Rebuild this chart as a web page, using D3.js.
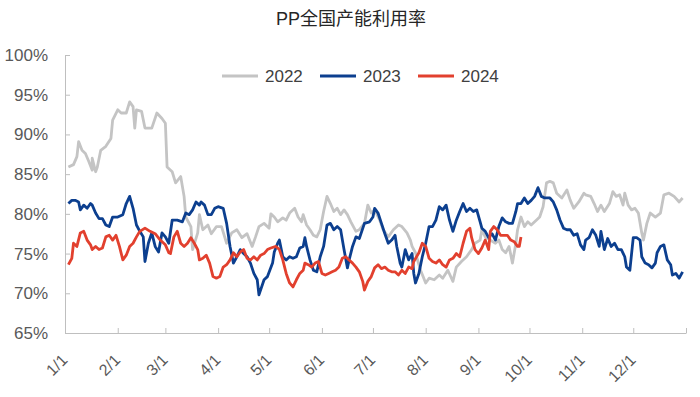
<!DOCTYPE html>
<html>
<head>
<meta charset="utf-8">
<script src="https://cdn.jsdelivr.net/npm/d3@7"></script>
<style>
  body { margin: 0; background: #fff; }
  svg { display: block; }
  .axis text { font-family: "Liberation Sans", Arial, sans-serif; fill: #595959; }
  .axis path, .axis line { stroke: #bfbfbf; }
</style>
</head>
<body>
<script>
// day of year, utilisation %
var series2022 = [[2,85.9],[5,86.2],[7,87.2],[8,89.1],[10,88.0],[12,87.6],[14,86.6],[16,85.5],[16,87.0],[18,85.3],[19,85.9],[21,88.0],[24,88.5],[27,89.5],[28,91.8],[31,93.1],[33,92.7],[36,92.7],[38,94.1],[40,93.5],[41,90.8],[42,93.1],[45,92.9],[47,90.8],[51,90.8],[54,92.7],[57,92.0],[59,91.4],[60,85.9],[63,85.3],[65,83.9],[68,84.7],[70,82.2],[71,79.6],[74,78.4],[75,75.5],[78,77.6],[79,79.9],[81,78.0],[84,78.6],[86,77.5],[89,78.4],[92,78.4],[95,76.3],[98,77.6],[101,78.0],[104,77.0],[107,77.5],[110,75.9],[112,77.1],[114,78.4],[117,78.8],[120,78.2],[121,80.0],[123,79.6],[125,79.0],[128,79.5],[130,79.2],[132,80.1],[135,80.7],[137,79.6],[139,79.0],[140,79.9],[142,78.6],[144,78.0],[146,77.3],[148,77.1],[150,78.0],[152,80.3],[154,82.2],[156,81.3],[158,80.3],[160,80.7],[162,79.9],[164,80.5],[166,79.9],[168,79.0],[171,77.8],[173,78.0],[176,78.8],[178,81.1],[180,80.1],[182,80.5],[185,79.2],[187,78.0],[190,77.1],[193,78.0],[196,78.6],[198,78.4],[201,77.6],[203,76.7],[204,75.9],[206,75.1],[209,72.9],[212,71.3],[214,71.9],[217,71.7],[220,72.3],[222,71.9],[225,72.9],[228,71.5],[230,73.3],[233,74.0],[236,74.6],[239,75.5],[241,76.3],[244,76.7],[245,78.0],[247,77.1],[250,76.7],[253,76.3],[255,76.7],[257,75.5],[259,75.1],[261,75.9],[263,73.8],[265,76.3],[266,78.0],[268,79.6],[270,78.4],[272,79.0],[274,78.6],[277,79.2],[279,79.6],[281,80.9],[283,83.9],[285,84.1],[287,83.9],[289,82.6],[292,82.0],[295,83.0],[297,81.7],[299,80.7],[302,81.5],[305,82.6],[306,82.4],[309,82.2],[311,81.3],[313,80.3],[315,81.1],[317,80.3],[320,81.3],[322,82.8],[324,82.2],[326,82.4],[328,81.1],[329,82.6],[331,81.1],[333,80.5],[335,80.7],[337,80.1],[339,77.6],[340,76.7],[342,78.8],[344,80.1],[347,79.6],[350,80.1],[352,82.4],[355,82.6],[358,82.2],[361,81.5],[363,82.0]];

var series2023 = [[2,81.3],[4,81.7],[6,81.7],[8,81.5],[9,80.5],[11,81.1],[13,80.7],[15,81.3],[16,81.1],[18,80.1],[20,79.4],[22,79.4],[24,78.6],[26,78.4],[28,79.6],[31,79.6],[34,79.9],[36,81.3],[38,82.2],[40,80.7],[42,78.6],[44,77.8],[46,77.1],[47,74.0],[49,76.3],[51,77.6],[53,75.9],[55,75.2],[57,77.6],[59,77.1],[61,76.3],[63,79.2],[66,79.2],[69,79.0],[71,80.1],[73,79.9],[75,80.5],[77,81.5],[79,81.1],[80,81.5],[82,81.1],[84,79.9],[86,79.9],[88,80.7],[90,80.9],[93,80.7],[95,78.8],[97,75.9],[99,73.8],[101,74.6],[103,75.5],[105,75.0],[107,74.6],[109,73.8],[111,72.5],[113,71.7],[114,69.8],[117,71.7],[119,72.1],[122,73.8],[123,75.2],[125,76.3],[126,76.7],[128,74.6],[130,74.2],[132,74.6],[134,74.4],[136,74.6],[138,75.7],[140,75.9],[141,77.0],[142,75.9],[144,74.2],[146,72.9],[148,72.7],[150,74.6],[152,75.9],[154,78.6],[156,78.8],[158,78.0],[160,78.4],[162,78.0],[164,75.5],[166,73.2],[167,74.2],[169,75.9],[171,77.1],[173,76.9],[176,78.8],[179,79.0],[181,79.6],[182,80.7],[184,80.1],[186,78.8],[188,77.5],[190,76.3],[192,76.7],[194,77.3],[195,75.9],[197,73.8],[198,73.3],[200,75.5],[202,74.2],[204,75.0],[205,72.5],[206,71.3],[208,72.5],[210,74.6],[212,76.3],[214,78.4],[216,78.4],[218,79.2],[220,80.9],[222,80.5],[224,81.1],[226,79.2],[228,77.8],[230,79.2],[232,80.3],[234,81.3],[236,80.3],[238,80.7],[240,80.3],[242,80.5],[244,79.0],[245,78.2],[247,77.8],[249,77.0],[251,77.5],[253,76.7],[255,78.4],[257,79.5],[259,79.0],[261,78.8],[263,78.8],[265,80.3],[266,81.3],[268,81.3],[270,82.0],[272,81.3],[274,81.7],[276,82.2],[278,83.3],[280,82.2],[282,82.0],[285,82.0],[287,81.5],[289,80.5],[291,79.2],[293,78.2],[295,78.0],[297,78.0],[299,77.3],[301,77.5],[303,76.1],[305,75.5],[306,76.7],[308,77.0],[310,78.0],[312,77.3],[314,75.9],[315,77.8],[317,75.5],[319,76.9],[321,75.9],[323,76.3],[325,75.5],[327,75.5],[329,74.6],[330,73.3],[332,72.9],[334,77.0],[336,77.0],[338,76.7],[339,74.6],[341,73.8],[343,73.6],[345,73.2],[347,73.8],[348,75.1],[350,75.9],[352,76.1],[354,74.2],[356,73.6],[357,72.3],[359,72.5],[361,71.9],[363,72.7]];

var series2024 = [[2,73.6],[4,74.4],[5,76.3],[7,75.9],[9,77.6],[11,77.8],[13,76.7],[15,76.1],[16,75.5],[18,75.9],[20,75.5],[22,75.7],[24,77.1],[26,77.3],[28,76.7],[30,77.3],[32,75.9],[34,74.2],[36,74.8],[38,75.9],[40,76.3],[42,77.1],[44,77.8],[47,78.2],[50,77.8],[53,77.5],[56,76.7],[59,76.1],[61,75.1],[62,75.0],[64,77.1],[66,77.8],[68,76.3],[70,75.9],[72,76.3],[74,77.0],[76,76.3],[78,75.5],[79,74.2],[81,74.4],[83,74.8],[85,73.8],[87,72.1],[89,71.9],[91,72.1],[93,73.3],[95,73.6],[97,74.2],[99,75.1],[101,74.6],[103,75.2],[105,75.5],[107,74.4],[109,74.2],[111,74.6],[113,74.2],[115,74.8],[117,75.0],[119,75.5],[121,75.7],[124,75.9],[126,75.5],[128,74.2],[130,72.5],[132,71.3],[134,70.8],[136,71.7],[138,72.5],[140,72.9],[141,73.8],[143,73.6],[145,73.3],[147,73.8],[149,74.0],[151,72.5],[153,72.3],[155,72.5],[157,72.7],[159,72.9],[161,73.3],[163,74.4],[165,74.6],[167,74.2],[169,73.8],[171,73.3],[173,72.7],[175,71.5],[176,70.4],[178,71.5],[180,72.1],[182,73.2],[184,73.6],[186,73.1],[188,73.3],[190,72.9],[192,72.7],[194,72.7],[196,72.3],[198,72.9],[200,72.5],[202,73.3],[204,73.1],[205,74.0],[208,75.1],[210,76.3],[212,75.9],[214,74.4],[216,74.0],[218,73.8],[220,74.2],[222,73.6],[224,73.3],[226,74.2],[228,74.4],[230,75.0],[232,74.6],[234,76.3],[236,77.8],[238,78.2],[239,77.0],[241,75.5],[243,75.0],[245,75.7],[247,76.7],[249,75.5],[250,77.8],[252,78.4],[254,78.0],[256,77.3],[258,77.3],[260,77.3],[262,76.7],[264,76.5],[266,75.9],[267,75.9],[268,77.1]];

var seriesNames = ["2022", "2023", "2024"];
var seriesColors = ["#c4c4c4", "#0c3f8f", "#e2402e"];
var monthDays = [0, 31, 59, 90, 120, 151, 181, 212, 243, 273, 304, 334, 365];
var monthLabels = ["1/1", "2/1", "3/1", "4/1", "5/1", "6/1", "7/1", "8/1", "9/1", "10/1", "11/1", "12/1"];
var yTicks = [65, 70, 75, 80, 85, 90, 95, 100];

var allSeries = [series2022, series2023, series2024];

var width = 700, height = 397;
var margin = { top: 55, right: 14, bottom: 64, left: 65 };

var svg = d3.select("body").append("svg")
    .attr("width", width)
    .attr("height", height);

var x = d3.scaleLinear()
    .domain([0, 365])
    .range([margin.left, width - margin.right]);

var y = d3.scaleLinear()
    .domain([65, 100])
    .range([height - margin.bottom, margin.top]);

svg.append("text")
    .attr("x", 351)
    .attr("y", 25)
    .attr("text-anchor", "middle")
    .style("font-family", "'Liberation Sans', 'Noto Sans CJK SC', sans-serif")
    .style("font-size", "18px")
    .style("fill", "#262626")
    .text("PP全国产能利用率");

var yAxis = d3.axisLeft(y)
    .tickValues(yTicks)
    .tickSize(-5)
    .tickSizeOuter(0)
    .tickPadding(17)
    .tickFormat(function (d) { return d + "%"; });

svg.append("g")
    .attr("class", "y axis")
    .attr("transform", "translate(" + margin.left + ",0)")
    .call(yAxis)
    .selectAll("text")
    .style("font-size", "17px");

var xAxis = d3.axisBottom(x)
    .tickValues(monthDays)
    .tickSize(-5)
    .tickSizeOuter(0)
    .tickFormat(function (d, i) { return monthLabels[i] || ""; });

var gX = svg.append("g")
    .attr("class", "x axis")
    .attr("transform", "translate(0," + (height - margin.bottom) + ")")
    .call(xAxis);

gX.selectAll("text")
    .style("font-size", "16px")
    .attr("text-anchor", "end")
    .attr("x", 0)
    .attr("y", 0)
    .attr("dy", "0.35em")
    .attr("transform", "translate(-1,24) rotate(-45)");

var line = d3.line()
    .x(function (d) { return x(d[0]); })
    .y(function (d) { return y(d[1]); });

svg.selectAll(".series")
    .data(allSeries)
  .enter().append("path")
    .attr("class", "series")
    .attr("d", line)
    .attr("fill", "none")
    .attr("stroke", function (d, i) { return seriesColors[i]; })
    .attr("stroke-width", 2.8)
    .attr("stroke-linejoin", "round");

// legend
var legendX = [222, 320, 418];
var legend = svg.selectAll(".legend")
    .data(seriesNames)
  .enter().append("g")
    .attr("class", "legend")
    .attr("transform", function (d, i) { return "translate(" + legendX[i] + ",76)"; });

legend.append("line")
    .attr("x1", 0)
    .attr("x2", 36)
    .attr("stroke", function (d, i) { return seriesColors[i]; })
    .attr("stroke-width", 3);

legend.append("text")
    .attr("x", 43)
    .attr("dy", "0.36em")
    .style("font-family", "'Liberation Sans', Arial, sans-serif")
    .style("font-size", "17px")
    .style("fill", "#404040")
    .text(function (d) { return d; });
</script>
</body>
</html>
